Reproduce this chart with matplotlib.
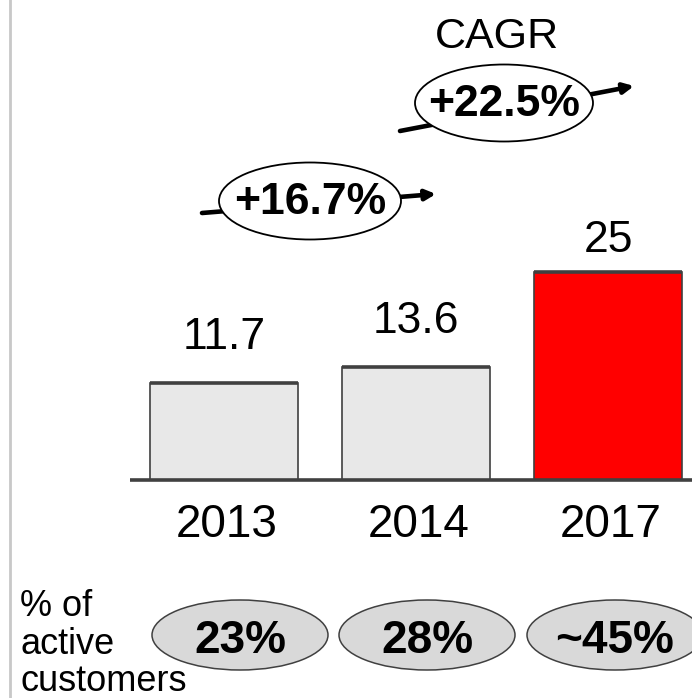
import matplotlib
matplotlib.use("Agg")
import matplotlib.pyplot as plt
from matplotlib.patches import Ellipse
from matplotlib.lines import Line2D

plt.rcParams['font.family'] = ['Liberation Sans', 'DejaVu Sans']

# data
years = ['2013', '2014', '2017']
values = [11.7, 13.6, 25]
bar_colors = ['#e8e8e8', '#e8e8e8', '#ff0000']
cagr_labels = ['+16.7%', '+22.5%']
active_share = ['23%', '28%', '~45%']

W, H = 692, 698
fig = plt.figure(figsize=(W / 100, H / 100), dpi=100)

# bar axes spans the whole figure: bar centre spacing 192 px, baseline 480 px from top
X0, BASE, STEP = 224.0, 480.0, 192.0
px = 25 / 208.0          # value units per pixel


def dx(p):
    return (p - X0) / STEP


def dy(p):
    return (BASE - p) * px


ax = fig.add_axes([0, 0, 1, 1])
ax.set_axis_off()
ax.set_xlim(dx(0), dx(W))
ax.set_ylim(dy(H), dy(0))

x = list(range(len(years)))
bw = 148 / STEP
ax.bar(x, values, width=bw, color=bar_colors, edgecolor='#404040', linewidth=1.2, zorder=2)
for xi, v in zip(x, values):
    ax.plot([xi - bw / 2, xi + bw / 2], [v, v], color='#404040', lw=2.6, zorder=3,
            solid_capstyle='butt')
ax.plot([dx(130), dx(W)], [0, 0], color='#404040', lw=2.6, zorder=4,
        solid_capstyle='butt')

# value labels (baselines above each bar)
label_gap = [34, 34, 20]
for xi, v, g in zip(x, values, label_gap):
    ax.text(xi, v + g * px, f'{v:g}', ha='center', va='baseline', fontsize=32)
for xi, yr in zip(x, years):
    ax.text(xi + dx(226.5), dy(537), yr, ha='center', va='baseline', fontsize=33)

# CAGR ellipses with arrows
cagr_pos = [(310, 201, 182), (504, 103, 178)]
arrow_ends = [((202, 213), (436, 194)), ((400, 131), (634, 86))]
for (cx, cy, ew), (p0, p1), lab in zip(cagr_pos, arrow_ends, cagr_labels):
    ax.annotate('', xy=(dx(p1[0]), dy(p1[1])), xytext=(dx(p0[0]), dy(p0[1])),
                arrowprops=dict(arrowstyle='-|>,head_length=0.6,head_width=0.3',
                                color='black', lw=3.3, shrinkA=0, shrinkB=0),
                zorder=5)
    ax.add_patch(Ellipse((dx(cx), dy(cy)), ew / STEP, 77 * px, facecolor='white',
                         edgecolor='black', lw=1.3, zorder=6))
    ax.text(dx(cx), dy(cy + 1), lab, ha='center', va='center', fontsize=32,
            fontweight='bold', zorder=7)

ax.text(dx(497), dy(48), 'CAGR', ha='center', va='baseline', fontsize=31)

# share of active customers
share_x = [240, 427, 615]
for sx, s in zip(share_x, active_share):
    ax.add_patch(Ellipse((dx(sx), dy(635)), 176 / STEP, 70 * px, facecolor='#d9d9d9',
                         edgecolor='#404040', lw=1.1, zorder=3))
    ax.text(dx(sx), dy(653), s, ha='center', va='baseline', fontsize=33,
            fontweight='bold', zorder=4)

for line, base in zip(['% of', 'active', 'customers'], [616, 654, 691]):
    ax.text(dx(20), dy(base), line, ha='left', va='baseline', fontsize=26)

fig.add_artist(Line2D([10 / W, 10 / W], [0, 1], color='#c8c8c8', lw=2))

fig.savefig('out.png', dpi=100)
